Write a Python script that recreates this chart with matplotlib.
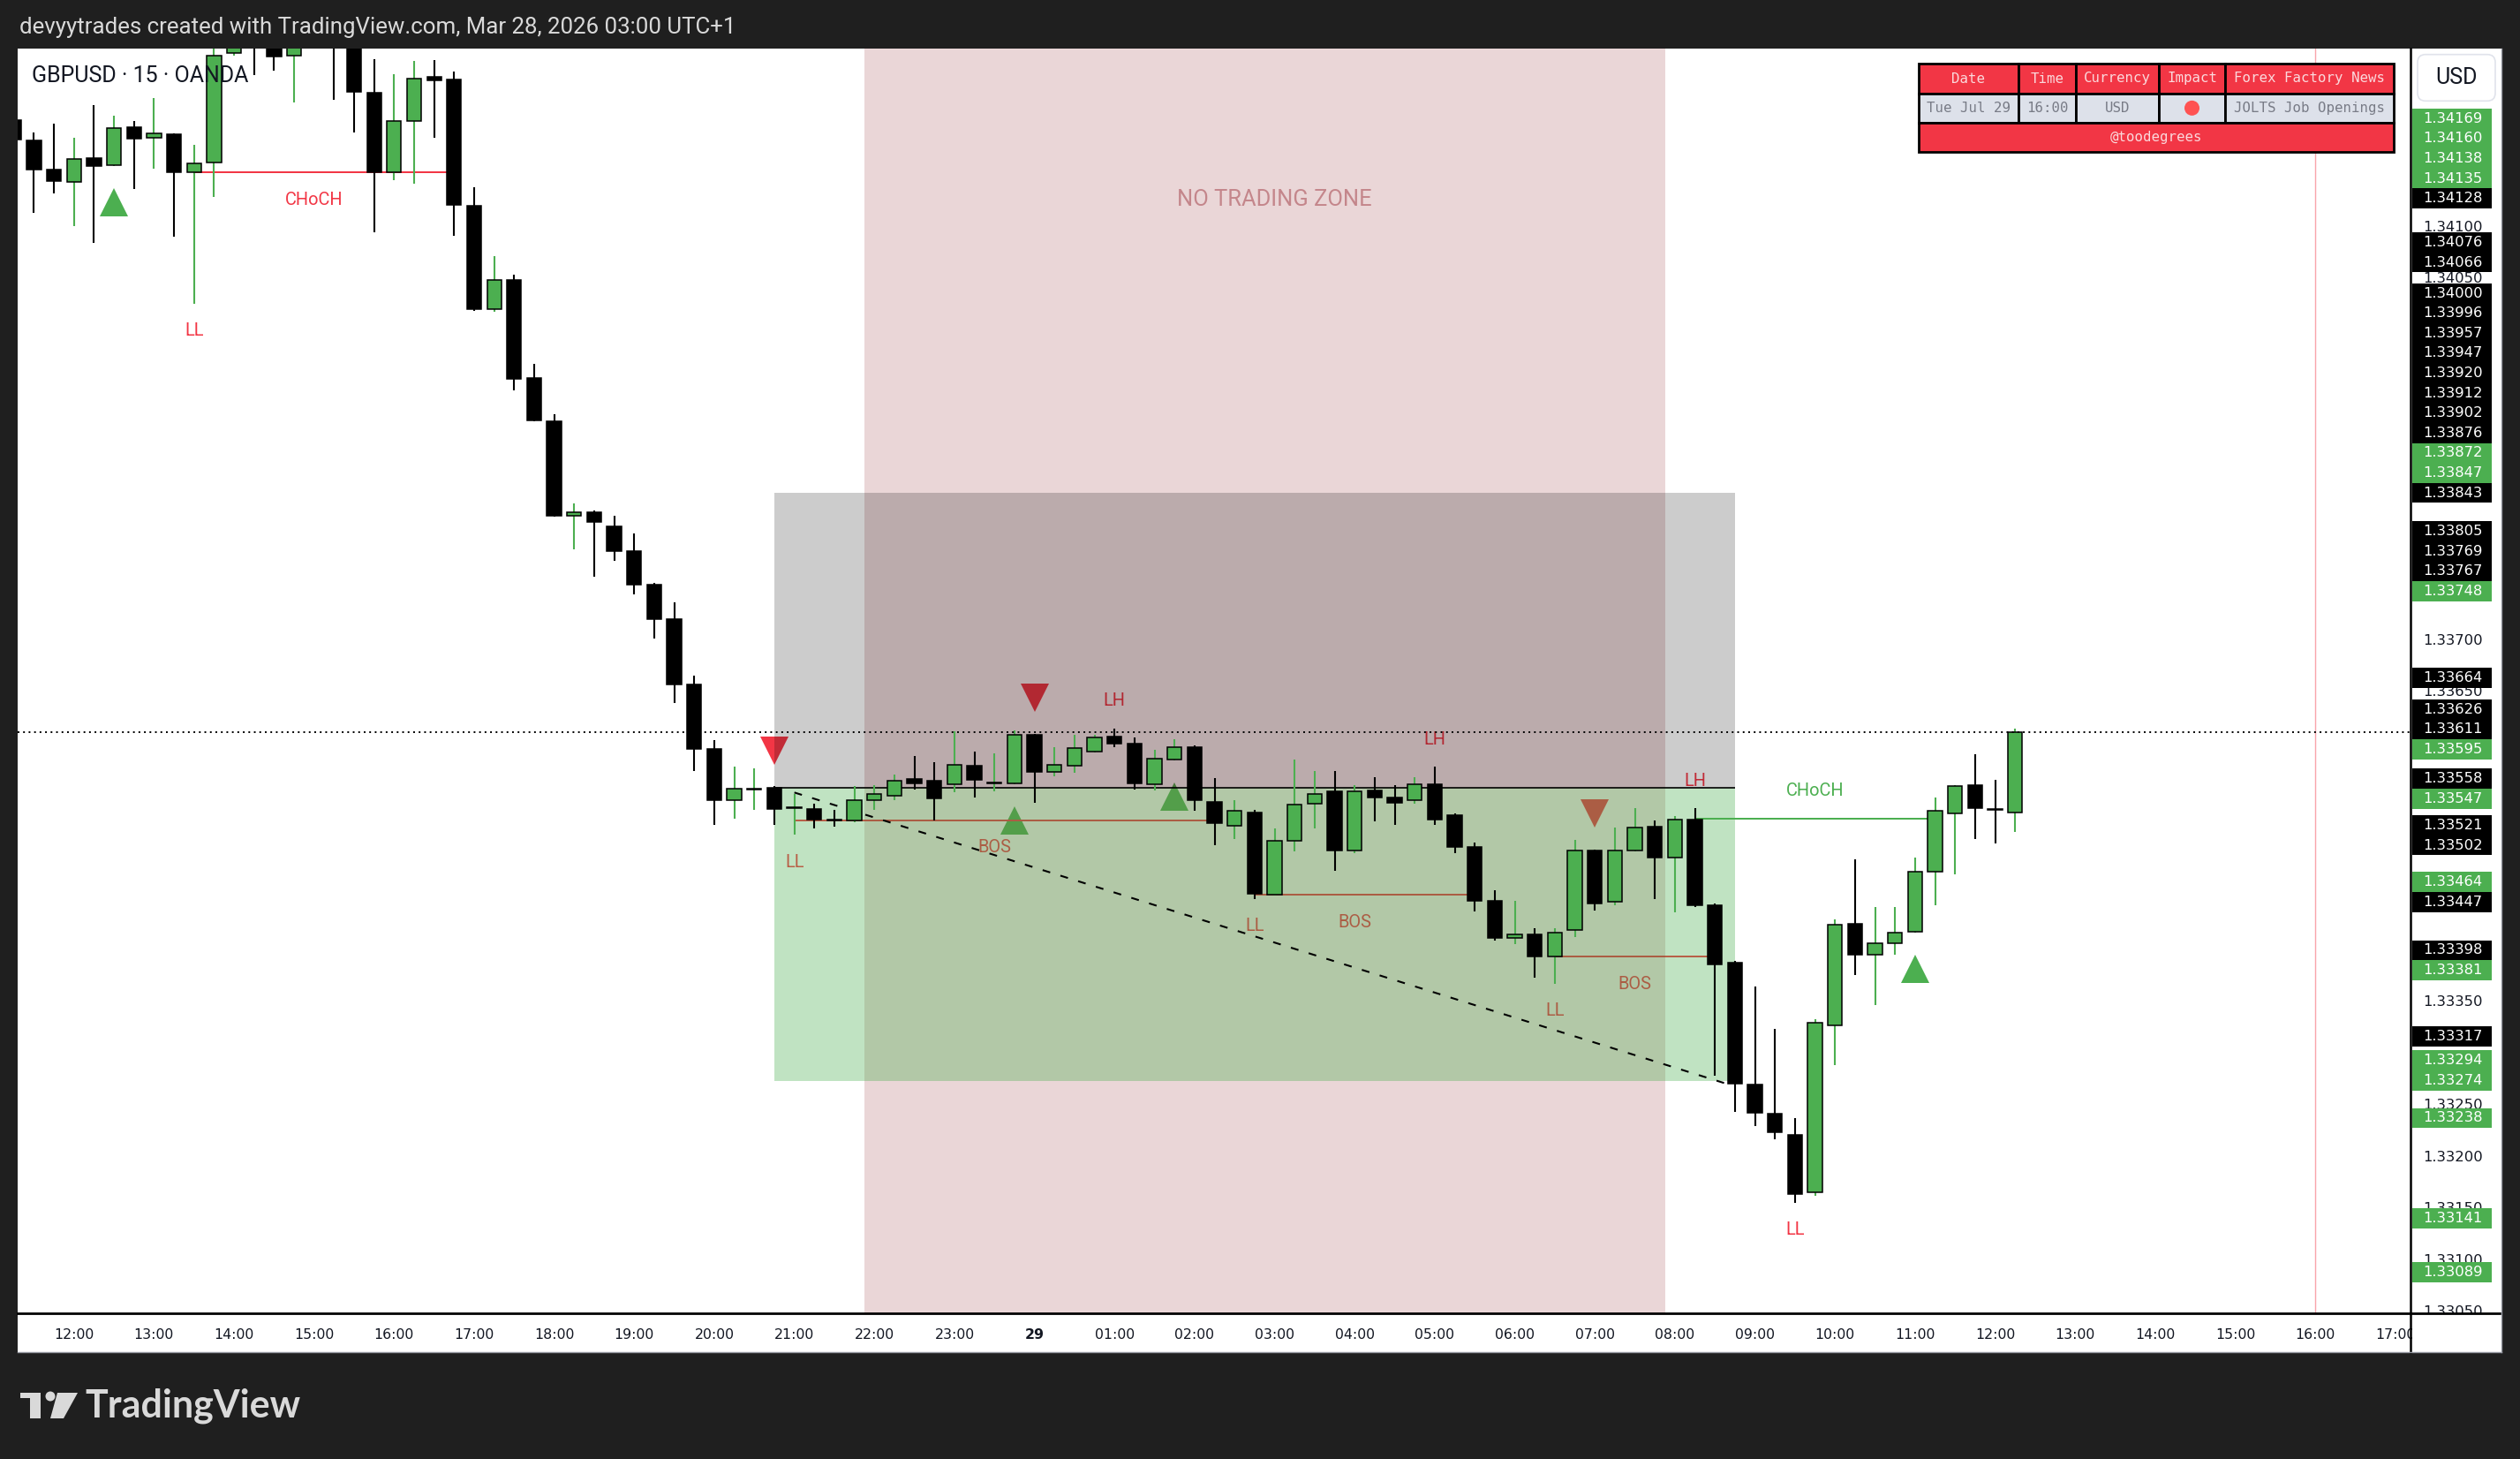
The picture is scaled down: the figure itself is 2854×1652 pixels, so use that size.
import numpy as np
import pandas as pd
import matplotlib
matplotlib.use("Agg")
import matplotlib.pyplot as plt
from matplotlib.patches import Rectangle, FancyBboxPatch, Polygon, Circle
from matplotlib.lines import Line2D
from matplotlib.transforms import Affine2D, offset_copy, blended_transform_factory

plt.rcParams['font.family'] = ['Roboto', 'DejaVu Sans']

# ---- GBPUSD 15m candles ----
first_bar = '2025-07-28 11:15'
opens = [1.34204, 1.34184, 1.34156, 1.34144, 1.34167, 1.34160, 1.34197, 1.34187, 1.34190, 1.34153,
         1.34163, 1.34269, 1.34300, 1.34283, 1.34266, 1.34290, 1.34310, 1.34285, 1.34230, 1.34153,
         1.34203, 1.34246, 1.34243, 1.34121, 1.34021, 1.34049, 1.33954, 1.33912, 1.33821, 1.33824,
         1.33811, 1.33787, 1.33754, 1.33721, 1.33658, 1.33595, 1.33546, 1.33556, 1.33558, 1.33538,
         1.33537, 1.33527, 1.33526, 1.33546, 1.33550, 1.33566, 1.33564, 1.33561, 1.33579, 1.33562,
         1.33562, 1.33609, 1.33573, 1.33579, 1.33593, 1.33607, 1.33600, 1.33561, 1.33585, 1.33597,
         1.33544, 1.33521, 1.33534, 1.33454, 1.33506, 1.33542, 1.33554, 1.33497, 1.33555, 1.33548,
         1.33546, 1.33561, 1.33531, 1.33500, 1.33448, 1.33412, 1.33416, 1.33394, 1.33420, 1.33497,
         1.33447, 1.33497, 1.33520, 1.33490, 1.33527, 1.33444, 1.33388, 1.33270, 1.33242, 1.33222,
         1.33166, 1.33328, 1.33426, 1.33396, 1.33407, 1.33418, 1.33476, 1.33533, 1.33560, 1.33537,
         1.33534]
highs = [1.34207, 1.34192, 1.34200, 1.34187, 1.34218, 1.34208, 1.34203, 1.34225, 1.34191, 1.34180,
         1.34288, 1.34310, 1.34315, 1.34290, 1.34300, 1.34320, 1.34318, 1.34290, 1.34263, 1.34248,
         1.34261, 1.34262, 1.34251, 1.34139, 1.34072, 1.34054, 1.33968, 1.33919, 1.33833, 1.33826,
         1.33821, 1.33804, 1.33756, 1.33737, 1.33666, 1.33604, 1.33578, 1.33576, 1.33559, 1.33552,
         1.33542, 1.33536, 1.33559, 1.33560, 1.33570, 1.33588, 1.33582, 1.33612, 1.33593, 1.33591,
         1.33613, 1.33610, 1.33597, 1.33609, 1.33609, 1.33615, 1.33606, 1.33594, 1.33605, 1.33599,
         1.33567, 1.33546, 1.33536, 1.33518, 1.33585, 1.33574, 1.33574, 1.33560, 1.33568, 1.33560,
         1.33568, 1.33578, 1.33533, 1.33505, 1.33458, 1.33448, 1.33422, 1.33422, 1.33507, 1.33498,
         1.33519, 1.33538, 1.33526, 1.33530, 1.33538, 1.33446, 1.33390, 1.33365, 1.33324, 1.33238,
         1.33334, 1.33430, 1.33488, 1.33442, 1.33442, 1.33490, 1.33548, 1.33560, 1.33590, 1.33565,
         1.33615]
lows = [1.34182, 1.34114, 1.34133, 1.34101, 1.34085, 1.34159, 1.34137, 1.34157, 1.34091, 1.34026,
        1.34129, 1.34266, 1.34247, 1.34252, 1.34221, 1.34280, 1.34223, 1.34192, 1.34095, 1.34146,
        1.34142, 1.34187, 1.34092, 1.34019, 1.34018, 1.33942, 1.33912, 1.33820, 1.33788, 1.33762,
        1.33777, 1.33745, 1.33702, 1.33640, 1.33574, 1.33522, 1.33528, 1.33536, 1.33522, 1.33512,
        1.33518, 1.33520, 1.33524, 1.33536, 1.33546, 1.33556, 1.33526, 1.33553, 1.33548, 1.33554,
        1.33561, 1.33543, 1.33569, 1.33572, 1.33592, 1.33597, 1.33556, 1.33555, 1.33584, 1.33535,
        1.33502, 1.33508, 1.33450, 1.33453, 1.33496, 1.33518, 1.33477, 1.33494, 1.33525, 1.33522,
        1.33542, 1.33522, 1.33494, 1.33438, 1.33410, 1.33406, 1.33374, 1.33368, 1.33413, 1.33439,
        1.33444, 1.33496, 1.33450, 1.33437, 1.33442, 1.33279, 1.33244, 1.33230, 1.33217, 1.33156,
        1.33163, 1.33289, 1.33376, 1.33347, 1.33396, 1.33417, 1.33444, 1.33474, 1.33508, 1.33504,
        1.33515]
closes = [1.34185, 1.34156, 1.34145, 1.34166, 1.34159, 1.34196, 1.34186, 1.34191, 1.34153, 1.34162,
          1.34266, 1.34300, 1.34283, 1.34265, 1.34290, 1.34310, 1.34285, 1.34231, 1.34153, 1.34203,
          1.34244, 1.34242, 1.34122, 1.34021, 1.34049, 1.33953, 1.33913, 1.33821, 1.33824, 1.33815,
          1.33787, 1.33754, 1.33721, 1.33658, 1.33595, 1.33546, 1.33557, 1.33557, 1.33537, 1.33539,
          1.33527, 1.33526, 1.33546, 1.33552, 1.33564, 1.33562, 1.33547, 1.33580, 1.33565, 1.33563,
          1.33609, 1.33573, 1.33580, 1.33596, 1.33606, 1.33600, 1.33562, 1.33586, 1.33597, 1.33546,
          1.33523, 1.33535, 1.33455, 1.33506, 1.33541, 1.33552, 1.33497, 1.33554, 1.33548, 1.33543,
          1.33561, 1.33527, 1.33500, 1.33448, 1.33412, 1.33416, 1.33394, 1.33417, 1.33497, 1.33446,
          1.33497, 1.33519, 1.33490, 1.33527, 1.33444, 1.33387, 1.33271, 1.33243, 1.33224, 1.33164,
          1.33330, 1.33425, 1.33396, 1.33407, 1.33417, 1.33476, 1.33535, 1.33559, 1.33538, 1.33536,
          1.33611]

# market structure labels
swing_times = ['2025-07-28 13:30', '2025-07-28 21:00', '2025-07-29 01:00', '2025-07-29 02:45',
               '2025-07-29 05:00', '2025-07-29 06:30', '2025-07-29 08:15', '2025-07-29 09:30']
swing_texts = ['LL', 'LL', 'LH', 'LL', 'LH', 'LL', 'LH', 'LL']
swing_side = ['low', 'low', 'high', 'low', 'high', 'low', 'high', 'low']

struct_start = ['2025-07-28 13:30', '2025-07-28 21:00', '2025-07-29 02:45', '2025-07-29 06:30', '2025-07-29 08:15']
struct_end = ['2025-07-28 16:45', '2025-07-29 02:15', '2025-07-29 05:30', '2025-07-29 08:30', '2025-07-29 11:15']
struct_level = [1.34153, 1.33526, 1.33454, 1.33394, 1.33528]
struct_text = ['CHoCH', 'BOS', 'BOS', 'BOS', 'CHoCH']
struct_bull = [False, False, False, False, True]

buy_signals = ['2025-07-28 12:30', '2025-07-28 23:45', '2025-07-29 01:45', '2025-07-29 11:00']
sell_signals = ['2025-07-28 20:45', '2025-07-29 00:00', '2025-07-29 07:00']

# short position tool
pos_start, pos_end = '2025-07-28 20:45', '2025-07-29 08:45'
pos_entry, pos_stop, pos_target = 1.33558, 1.33843, 1.33274

trend_times = ['2025-07-28 21:00', '2025-07-29 08:39']
trend_prices = [1.33553, 1.33271]

session_start, session_end = '2025-07-28 22:00', '2025-07-29 08:00'
news_time = '2025-07-29 16:00'

# price scale labels
axis_prices = [1.34169, 1.34160, 1.34138, 1.34135, 1.34128, 1.34076, 1.34066, 1.34000, 1.33996, 1.33957,
               1.33947, 1.33920, 1.33912, 1.33902, 1.33876, 1.33872, 1.33847, 1.33843, 1.33805, 1.33769,
               1.33767, 1.33748, 1.33664, 1.33626, 1.33611, 1.33595, 1.33558, 1.33547, 1.33521, 1.33502,
               1.33464, 1.33447, 1.33398, 1.33381, 1.33317, 1.33294, 1.33274, 1.33238, 1.33141, 1.33089]
axis_kind = ['g', 'g', 'g', 'g', 'k', 'k', 'k', 'k', 'k', 'k',
             'k', 'k', 'k', 'k', 'k', 'g', 'g', 'k', 'k', 'k',
             'k', 'g', 'k', 'k', 'k', 'g', 'k', 'g', 'k', 'k',
             'g', 'k', 'k', 'g', 'k', 'g', 'g', 'g', 'g', 'g']

hour_ticks = pd.date_range('2025-07-28 12:00', '2025-07-29 17:00', freq='1h')

table_header = ['Date', 'Time', 'Currency', 'Impact', 'Forex Factory News']
table_row = ['Tue Jul 29', '16:00', 'USD', '', 'JOLTS Job Openings']
table_footer = '@toodegrees'

# ---- styling ----
GREEN = '#4caf50'
RED = '#f23645'
DARK = '#1f1f1f'
W, H, DPI = 2854, 1652, 200
L, R, T, B = 20, 2731, 55, 1487

t0 = pd.Timestamp(first_bar)


def bx(t):
    return (pd.Timestamp(t) - t0) / pd.Timedelta(minutes=15)


fig = plt.figure(figsize=(W / DPI, H / DPI), dpi=DPI, facecolor=DARK)
PX = Affine2D().scale(1, -1).translate(0, H)   # pixel coords, origin top-left


def fig_rect(x0, y0, x1, y1, **kw):
    fig.add_artist(Rectangle((x0, y0), x1 - x0, y1 - y0, transform=PX, **kw))


fig_rect(L, T, 2833, 1531, fc='white', lw=0, zorder=-5)

ax = fig.add_axes([L / W, 1 - B / H, (R - L) / W, (B - T) / H])
ax.set_facecolor('none')
ax.set_axis_off()
ax.set_xlim(0.19, 119.8)
ax.set_ylim(1.33049, 1.34273)
ymin, ymax = ax.get_ylim()

x = np.arange(len(opens))
o, h, l, c = (np.array(v) for v in (opens, highs, lows, closes))
cols = [GREEN if cc >= oo else 'black' for oo, cc in zip(o, c)]

# session background and position tool
ax.axvspan(bx(session_start) - 0.5, bx(session_end) - 0.5, color=(0.55, 0.13, 0.15), alpha=0.18, lw=0, zorder=3)
px0, px1 = bx(pos_start), bx(pos_end)
ax.add_patch(Rectangle((px0, pos_entry), px1 - px0, pos_stop - pos_entry, fc='black', alpha=0.2, lw=0, zorder=4))
ax.add_patch(Rectangle((px0, pos_target), px1 - px0, pos_entry - pos_target, fc=GREEN, alpha=0.35, lw=0, zorder=4))
ax.hlines(pos_entry, px0, px1, color='black', lw=0.6, zorder=5)
ax.plot([bx(t) for t in trend_times], trend_prices, color='black', lw=0.75, dashes=(4.3, 5.8), zorder=5)

# candles
ax.vlines(x, l, h, colors=cols, lw=0.75, zorder=6)
ax.bar(x, np.abs(c - o), bottom=np.minimum(o, c), width=0.72, color=cols,
       edgecolor='black', lw=0.55, zorder=7)

ax.axhline(closes[-1], color='black', lw=0.7, ls=(0, (1, 2.2)), zorder=8)
ax.axvline(bx(news_time), color=RED, alpha=0.45, lw=0.5, zorder=2)

# signals
below = offset_copy(ax.transData, fig=fig, y=-14.7, units='points')
above = offset_copy(ax.transData, fig=fig, y=14.7, units='points')
for t in buy_signals:
    i = int(bx(t))
    ax.plot(i, lows[i], marker='^', ms=11.5, color=GREEN, mew=0, transform=below, zorder=2)
for t in sell_signals:
    i = int(bx(t))
    ax.plot(i, highs[i], marker='v', ms=11.5, color=RED, mew=0, transform=above, zorder=2)

# swing labels
for t, s, side in zip(swing_times, swing_texts, swing_side):
    i = int(bx(t))
    y, dy = (lows[i], -11.1) if side == 'low' else (highs[i], 11.1)
    ax.annotate(s, (i, y), xytext=(0, dy), textcoords='offset points', ha='center', va='center',
                fontsize=7.2, color=RED, zorder=2)

# structure lines, label sits on the middle bar
for s0, s1, lev, s, bull in zip(struct_start, struct_end, struct_level, struct_text, struct_bull):
    col = GREEN if bull else RED
    a, b = bx(s0), bx(s1)
    ax.hlines(lev, a, b, color=col, lw=0.72, zorder=2)
    ax.annotate(s, ((a + b) // 2, lev), xytext=(0, 11.1 if bull else -11.1), textcoords='offset points',
                ha='center', va='center', fontsize=7.2, color=col, zorder=2)

ax.text((bx(session_start) + bx(session_end)) / 2, 0.8806, 'NO TRADING ZONE',
        transform=blended_transform_factory(ax.transData, ax.transAxes),
        ha='center', va='center', fontsize=9.2, color='#c4868b', zorder=9)

# time axis
for t in hour_ticks:
    lab = '29' if t.hour == 0 else t.strftime('%H:%M')
    ax.text(bx(t), -0.01725, lab, transform=ax.get_xaxis_transform(), clip_on=False,
            ha='center', va='center', fontsize=5.7, color='#131722', family='DejaVu Sans',
            fontweight='bold' if t.hour == 0 else 'normal')

# price axis
pax = fig.add_axes([R / W, 1 - B / H, (2833 - R) / W, (B - T) / H])
pax.set_axis_off()
pax.set_xlim(0, 1)
pax.set_ylim(ymin, ymax)

lab_h = 22.6 / (B - T) * (ymax - ymin)
usd_bottom = ymin + (B - 114.3) / (B - T) * (ymax - ymin)
label_pos = []
prev = -np.inf
for k in np.argsort(axis_prices):
    yv = max(axis_prices[k], prev + lab_h)
    prev = yv
    label_pos.append(yv)
    pax.add_patch(Rectangle((0.007, yv - lab_h / 2), 0.89, lab_h, fc=GREEN if axis_kind[k] == 'g' else 'black',
                            lw=0, zorder=3))
    pax.text(0.46, yv, f'{axis_prices[k]:.5f}', ha='center', va='center', fontsize=5.9, color='white',
             family='DejaVu Sans', clip_on=True, zorder=4)

# plain ticks are hidden by TradingView when a label sits on them
for p in np.arange(13305, 13426, 5) / 10000:
    if p > usd_bottom or any(abs(p - yv) < 0.45 * lab_h for yv in label_pos):
        continue
    pax.text(0.46, p, f'{p:.5f}', ha='center', va='center', fontsize=5.9, color='#131722',
             family='DejaVu Sans', clip_on=True, zorder=1)

fig.add_artist(FancyBboxPatch((2738, 61.7), 88, 52.6, boxstyle='round,pad=0,rounding_size=9',
                              fc='white', ec='#e0e3eb', lw=0.6, transform=PX, zorder=5))
fig.text(2782, 88, 'USD', transform=PX, ha='center', va='center', fontsize=9, color='#131722', zorder=6)

# frame
fig_rect(R + 1, B + 1, 2833, 1531, fc='white', lw=0, zorder=2)
fig.add_artist(Line2D([R - 1, R - 1], [T, 1531], transform=PX, color='black', lw=0.9, zorder=4))
fig.add_artist(Line2D([L, 2831], [B, B], transform=PX, color='black', lw=1.0, zorder=4))
fig.add_artist(Line2D([L, 2833], [1531, 1531], transform=PX, color='#9598a1', lw=0.5, zorder=4))
fig.add_artist(Line2D([2833, 2833], [T, 1531], transform=PX, color='#9598a1', lw=0.5, zorder=4))

fig.text(22, 31, 'devyytrades created with TradingView.com, Mar 28, 2026 03:00 UTC+1', transform=PX,
         ha='left', va='center', fontsize=9.3, color='#d9d9d9')
fig.text(36, 86, 'GBPUSD · 15 · OANDA', transform=PX, ha='left', va='center', fontsize=9,
         color='#131722', zorder=9)

# table
col_edges = [2172.5, 2286, 2350.7, 2445, 2520, 2711]
row_edges = [72.3, 105.7, 139, 172.3]
for j in range(5):
    x0, x1 = col_edges[j], col_edges[j + 1]
    fig_rect(x0, row_edges[0], x1, row_edges[1], fc=RED, ec='black', lw=1.0, zorder=10)
    fig_rect(x0, row_edges[1], x1, row_edges[2], fc='#dde1ea', ec='black', lw=1.0, zorder=10)
    fig.text((x0 + x1) / 2, (row_edges[0] + row_edges[1]) / 2, table_header[j], transform=PX,
             ha='center', va='center', fontsize=5.7, family='DejaVu Sans Mono', color='#fbd9dc', zorder=11)
    fig.text((x0 + x1) / 2, (row_edges[1] + row_edges[2]) / 2, table_row[j], transform=PX,
             ha='center', va='center', fontsize=5.7, family='DejaVu Sans Mono', color='#787b86', zorder=11)
fig_rect(col_edges[0], row_edges[2], col_edges[-1], row_edges[3], fc=RED, ec='black', lw=1.0, zorder=10)
fig.text((col_edges[0] + col_edges[-1]) / 2, (row_edges[2] + row_edges[3]) / 2, table_footer, transform=PX,
         ha='center', va='center', fontsize=5.7, family='DejaVu Sans Mono', color='#fbd9dc', zorder=11)
fig.add_artist(Circle(((col_edges[3] + col_edges[4]) / 2, (row_edges[1] + row_edges[2]) / 2), 8.5,
                      fc='#ff5252', lw=0, transform=PX, zorder=11))

# TradingView logo
LOGO = '#d9d9d9'
fig_rect(23, 1577, 46, 1583, fc=LOGO, lw=0)
fig_rect(34, 1577, 46, 1606, fc=LOGO, lw=0)
fig.add_artist(Circle((57, 1581), 5.5, fc=LOGO, lw=0, transform=PX))
fig.add_artist(Polygon([(65, 1577), (88, 1577), (72, 1606), (57, 1606)], closed=True, fc=LOGO, lw=0, transform=PX))
fig.text(96, 1592, 'TradingView', transform=PX, ha='left', va='center', fontsize=15.5,
         family=['Lato', 'DejaVu Sans'], fontweight='bold', color=LOGO)

fig.savefig('out.png', dpi=DPI, facecolor=fig.get_facecolor())
